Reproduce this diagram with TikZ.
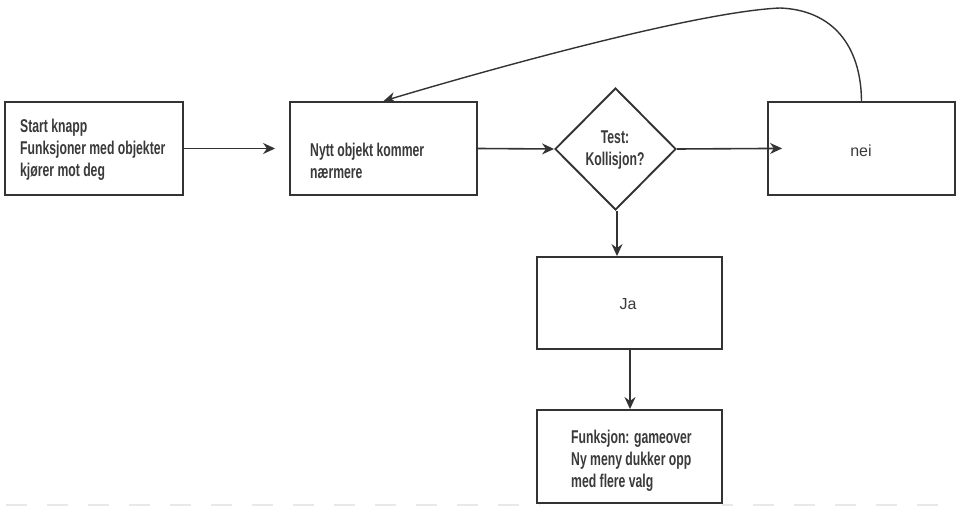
\documentclass[tikz,border=0pt]{standalone}
\usepackage{fontspec}
\setmainfont{Liberation Sans}
\newfontfamily\condfont[FakeStretch=0.66]{Liberation Sans Bold}
\usetikzlibrary{shapes.geometric,arrows.meta}
\definecolor{ink}{HTML}{333333}
\definecolor{txt}{HTML}{3A3A3A}
\tikzset{
  box/.style={draw=ink, line width=1.9pt, rectangle, inner sep=0pt},
  cond/.style={font=\condfont\fontsize{18.5}{22}\selectfont, text=txt, align=left, inner sep=0pt},
  plain/.style={font=\fontsize{16}{18}\selectfont, text=txt, inner sep=0pt},
  arr/.style={draw=ink, line width=1.6pt, -{Stealth[length=12pt,width=11pt]}},
}
\begin{document}
\begin{tikzpicture}[x=1pt,y=-1pt]
\useasboundingbox (0,0) rectangle (956,508);
\fill[white] (0,0) rectangle (956,508);
% faint artifact line at bottom
\draw[gray!18, line width=2pt, dash pattern=on 21pt off 20pt] (6,505) -- (540,505);
\draw[gray!18, line width=2pt, dash pattern=on 21pt off 20pt, dash phase=10pt] (722,505) -- (956,505);

% boxes
\node[box, minimum width=178pt, minimum height=93pt] (start) at (94,148.5) {};
\node[box, minimum width=187pt, minimum height=93pt] (nytt) at (383.5,148.5) {};
\node[box, minimum width=187pt, minimum height=93pt] (nei) at (861.5,148.5) {};
\node[box, minimum width=185pt, minimum height=92pt] (ja) at (629.5,303) {};
\node[box, minimum width=185pt, minimum height=93pt] (game) at (629.5,456.5) {};
\node[draw=ink, line width=1.9pt, diamond, aspect=1, minimum width=121pt, minimum height=122pt, inner sep=0pt] (test) at (615.5,149) {};

% texts
\node[cond, anchor=west] (t1) at (20,150) {Start knapp\\Funksjoner med objekter\\kjører mot deg};
\node[cond, anchor=west] (t2) at (310,161) {Nytt objekt kommer\\nærmere};
\node[cond, align=center] (t3) at (615,150) {Test:\\Kollisjon?};
\node[plain] (t4) at (861,151) {nei};
\node[plain] (t5) at (628,304) {Ja};
\node[cond, anchor=west] (t6) at (571,461) {Funksjon: gameover\\Ny meny dukker opp\\med flere valg};

% connectors
\draw[arr, shorten >=14pt] (start.east) -- (nytt.west);
\draw[arr] (nytt.east) -- (test.west);
\draw[arr, shorten >=-15pt] (test.east) -- (nei.west);
\draw[arr] (test.south -| 617,0) -- (ja.north -| 617,0);
\draw[arr] (ja.south -| 630,0) -- (game.north -| 630,0);
\coordinate (top) at (780,8);
\draw[arr, line width=1.4pt] (nei.north) .. controls (861,45) and (832,10) .. (top) .. controls (690,12) and (460,78) .. (nytt.north);
\end{tikzpicture}
\end{document}
